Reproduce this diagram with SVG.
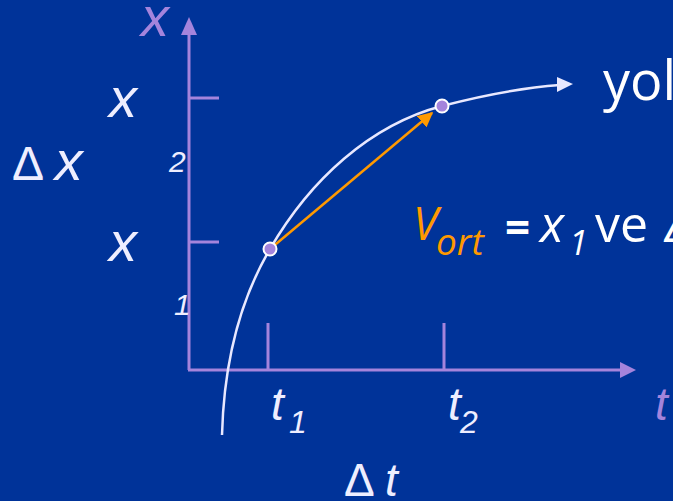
<svg xmlns="http://www.w3.org/2000/svg" width="673" height="501" viewBox="0 0 673 501">
<defs>
<style>
.bg{fill:#003399}
.ax{stroke:#a484dc;stroke-width:3;fill:none}
.axh{fill:#a484dc}
.crv{stroke:#e8e8ff;stroke-width:2.5;fill:none}
.pt{fill:#a484dc;stroke:#ffffff;stroke-width:2}
.t{font-family:"Liberation Sans",Arial,sans-serif;fill:#eeeeff}
.it{font-style:italic}
.pu{fill:#a484dc}
.c{font-family:"Open Sans","DejaVu Sans",sans-serif;fill:#ffffff}
.or{fill:#ff9900}
</style>
<marker id="oa" viewBox="0 0 10 10" refX="9" refY="5" markerWidth="6" markerHeight="6" markerUnits="strokeWidth" orient="auto">
<path d="M0,0 L10,5 L0,10 z" fill="#ff9900"/>
</marker>
</defs>
<rect class="bg" x="0" y="0" width="673" height="501"/>

<g id="axes">
<line class="ax" x1="189" y1="370" x2="189" y2="32"/>
<polygon class="axh" points="189,17 181,35 197,35"/>
<line class="ax" x1="188" y1="370" x2="622" y2="370"/>
<polygon class="axh" points="636,370 620,362 620,378"/>
<line class="ax" x1="189" y1="98" x2="219" y2="98"/>
<line class="ax" x1="189" y1="242" x2="219" y2="242"/>
<line class="ax" x1="268" y1="323" x2="268" y2="370"/>
<line class="ax" x1="444" y1="323" x2="444" y2="370"/>
</g>

<g id="connectors">
<path class="crv" d="M222,435 C224,360 240,300 270,249 C310,180 370,125 442,106 C480,96 520,88 560,85"/>
<polygon fill="#e8e8ff" points="573,84 557,77 557,92"/>
<line x1="270" y1="249" x2="432" y2="113" stroke="#ff9900" stroke-width="2.5" marker-end="url(#oa)"/>
</g>

<g id="p1"><circle class="pt" cx="270" cy="249" r="6.5"/></g>
<g id="p2"><circle class="pt" cx="442" cy="106" r="6.5"/></g>

<g id="labels">
<text class="t it pu" x="141" y="36" font-size="56">x</text>
<text class="t it" x="109" y="117" font-size="56">x</text>
<text class="t it" x="109" y="261" font-size="56">x</text>
<text class="t" x="12" y="180" font-size="48">Δ <tspan class="it" font-size="56">x</tspan></text>
<text class="t it" x="169" y="172" font-size="30">2</text>
<text class="t it" x="174" y="315" font-size="30">1</text>
<text class="t it" x="271" y="420" font-size="46">t</text>
<text class="t it" x="289" y="433" font-size="32">1</text>
<text class="t it" x="448" y="420" font-size="46">t</text>
<text class="t it" x="460" y="433" font-size="32">2</text>
<text class="t it pu" x="655" y="420" font-size="46">t</text>
<text class="t" x="344" y="496" font-size="46">Δ <tspan class="it">t</tspan></text>
<text class="c" x="603" y="100" font-size="54">yol</text>
<text class="c it or" x="413" y="240" font-size="45">V</text>
<text class="c it or" x="436" y="255" font-size="37">ort</text>
<text class="c" x="505" y="243" font-size="44" font-weight="bold">=</text>
<text class="c it" x="540" y="242" font-size="50">x</text>
<text class="c it" x="569" y="255" font-size="34">1</text>
<text class="c" x="595" y="242" font-size="50">ve</text>
<text class="c it" x="665" y="242" font-size="48">Δ</text>
</g>
</svg>
